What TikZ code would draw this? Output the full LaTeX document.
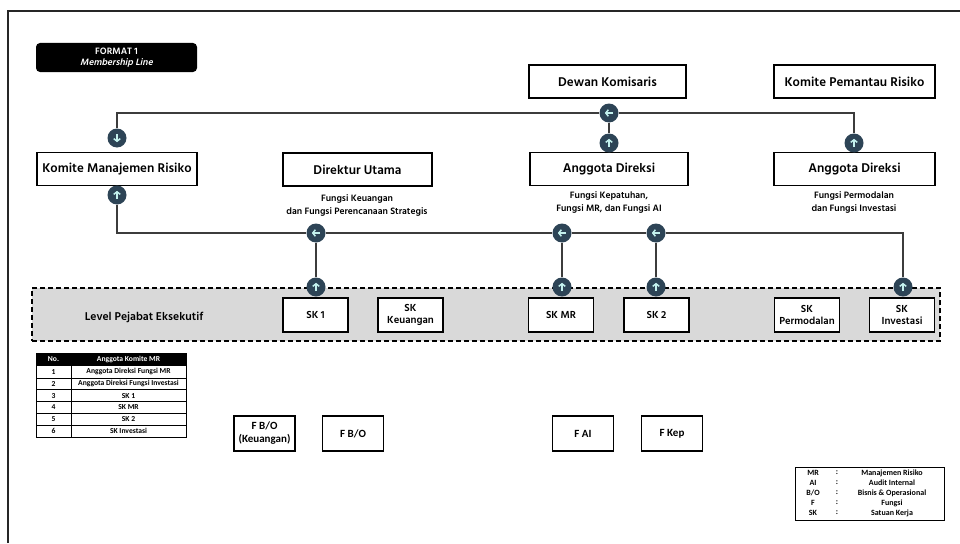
\documentclass[tikz,border=0pt]{standalone}
\usepackage{fontspec}
\setmainfont{Hind Siliguri}
\newfontfamily\hindsl{Hind Siliguri}[FakeSlant=0.22]
\newfontfamily\calib{Carlito}
\usetikzlibrary{arrows.meta}
\definecolor{circc}{HTML}{2D4456}
\definecolor{arrc}{HTML}{C4F2EE}
\definecolor{linec}{HTML}{3C3C3C}
\definecolor{band}{HTML}{D9D9D9}
\newcommand\arrL[1]{\draw[arrw] ([xshift=4.2pt]#1.center) -- ([xshift=-4.2pt]#1.center);}
\newcommand\arrU[1]{\draw[arrw] ([yshift=-4.2pt]#1.center) -- ([yshift=4.2pt]#1.center);}
\newcommand\arrD[1]{\draw[arrw] ([yshift=4.2pt]#1.center) -- ([yshift=-4.2pt]#1.center);}
\begin{document}
\begin{tikzpicture}[x=1pt,y=-1pt,
 box/.style={draw=black, line width=1.8pt, fill=white, minimum height=33pt, inner sep=0pt, font=\fontsize{13}{15}\selectfont\bfseries},
 skbox/.style={draw=black, line width=1.8pt, fill=white, minimum height=34pt, minimum width=65pt, inner sep=0pt, align=center, font=\fontsize{10.5}{11.5}\selectfont\bfseries},
 fbox/.style={draw=black, line width=1.5pt, fill=white, minimum height=35pt, minimum width=61pt, inner sep=0pt, align=center, font=\calib\fontsize{11}{13}\selectfont\bfseries},
 sub/.style={align=center, font=\fontsize{9.5}{13}\selectfont\bfseries},
 dot/.style={circle, fill=circc, minimum size=19pt, inner sep=0pt},
 conn/.style={draw=linec, line width=1.5pt},
 arrw/.style={draw=arrc, line width=1.5pt, -{Straight Barb[length=2.6pt,width=6.5pt]}},
 tcell/.style={font=\calib\fontsize{7.6}{9}\selectfont\bfseries, inner sep=0pt},
 lcell/.style={font=\calib\fontsize{8}{9}\selectfont\bfseries, inner sep=0pt},
]
\useasboundingbox (0,0) rectangle (960,543);
\fill[white] (0,0) rectangle (960,543);
% outer frame
\draw[line width=1.2pt, black!85] (8,543) -- (8,11) -- (960,11);

% title
\node[fill=black, rounded corners=4pt, minimum width=161pt, minimum height=29pt, inner sep=0pt] (title) at (116.5,57.5) {};
\node[text=white, align=center, font=\fontsize{9.5}{11.5}\selectfont\bfseries] (titletxt) at (title) {FORMAT 1\\\hindsl\bfseries Membership Line};

% band
\node[draw=black, dashed, dash pattern=on 5pt off 3pt, line width=1.6pt, fill=band, minimum width=908pt, minimum height=53pt, inner sep=0pt] (band) at (486,314.5) {};
\node[font=\fontsize{11.6}{14}\selectfont\bfseries] (lvl) at (144,317) {Level Pejabat Eksekutif};

% main boxes
\node[box, minimum width=160pt] (kmr) at (117,169) {Komite Manajemen Risiko};
\node[box, minimum width=149pt] (dirut) at (357.5,169.5) {Direktur Utama};
\node[box, minimum width=158pt] (ad1) at (609,169) {Anggota Direksi};
\node[box, minimum width=161pt] (ad2) at (854.5,169) {Anggota Direksi};
\node[box, minimum width=157pt] (dk) at (607.5,81.5) {Dewan Komisaris};
\node[box, minimum width=161pt] (kpr) at (854.5,81.5) {Komite Pemantau Risiko};

\node[sub] (s1) at (357,205) {Fungsi Keuangan\\dan Fungsi Perencanaan Strategis};
\node[sub] (s2) at (609,202.5) {Fungsi Kepatuhan,\\Fungsi MR, dan Fungsi AI};
\node[sub] (s3) at (854,202.5) {Fungsi Permodalan\\dan Fungsi Investasi};

% SK boxes
\node[skbox] (sk1) at (315.5,315) {SK 1};
\node[skbox] (skk) at (410.5,315) {SK\\Keuangan};
\node[skbox] (skmr) at (561,315) {SK MR};
\node[skbox] (sk2) at (656.5,315) {SK 2};
\node[skbox] (skp) at (807,315) {SK\\Permodalan};
\node[skbox] (ski) at (902,315) {SK\\Investasi};

% F boxes
\node[fbox] (fbok) at (264.5,433.5) {F B/O\\(Keuangan)};
\node[fbox] (fbo) at (353,433.5) {F B/O};
\node[fbox] (fai) at (583,433.5) {F AI};
\node[fbox] (fkep) at (672,433.5) {F Kep};

% circles
\node[dot] (ckt) at (117,138) {};
\node[dot] (ckb) at (117,195) {};
\node[dot] (cdk) at (609,113) {};
\node[dot] (cad1) at (609,143) {};
\node[dot] (cad2) at (854,143) {};
\node[dot] (cl1) at (316,233) {};
\node[dot] (cl2) at (562,233) {};
\node[dot] (cl3) at (656,233) {};
\node[dot] (cu1) at (316,287) {};
\node[dot] (cu2) at (562,287) {};
\node[dot] (cu3) at (656,287) {};
\node[dot] (cu4) at (903,287) {};

% connectors
\draw[conn] (ckt) |- (cdk);
\draw[conn] (cdk) -| (cad2);
\draw[conn] (cdk) -- (cad1);
\draw[conn] (ckb) |- (cl1);
\draw[conn] (cl1) -- (cl2);
\draw[conn] (cl2) -- (cl3);
\draw[conn] (cl3) -| (cu4);
\draw[conn] (cl1) -- (cu1);
\draw[conn] (cl2) -- (cu2);
\draw[conn] (cl3) -- (cu3);

\arrD{ckt} \arrU{ckb} \arrL{cdk} \arrU{cad1} \arrU{cad2}
\arrL{cl1} \arrL{cl2} \arrL{cl3}
\arrU{cu1} \arrU{cu2} \arrU{cu3} \arrU{cu4}

% table
\fill[black] (36,353) rectangle (186,366);
\draw[line width=0.6pt] (36,353) rectangle (186,437);
\foreach \i in {1,...,5} {\draw[line width=0.5pt] (36,{366+\i*11.83}) -- (186,{366+\i*11.83});}
\draw[line width=0.5pt] (71,366) -- (71,437);
\node[tcell, text=white] (th1) at (53.5,359.5) {No.};
\node[tcell, text=white] (th2) at (128.5,359.5) {Anggota Komite MR};
\foreach \n/\t [count=\k] in {1/Anggota Direksi Fungsi MR, 2/Anggota Direksi Fungsi Investasi, 3/SK 1, 4/SK MR, 5/SK 2, 6/SK Investasi} {
  \node[tcell] (tn\k) at (53.5,{366+(\k-0.5)*11.83}) {\n};
  \node[tcell] (tt\k) at (128.5,{366+(\k-0.5)*11.83}) {\t};
}

% legend
\node[draw=black, line width=0.8pt, minimum width=149pt, minimum height=53pt, inner sep=0pt] (leg) at (869.5,493.5) {};
\foreach \a/\b [count=\k] in {{MR}/{Manajemen Risiko}, {AI}/{Audit Internal}, {B/O}/{Bisnis \& Operasional}, {F}/{Fungsi}, {SK}/{Satuan Kerja}} {
  \node[lcell] (la\k) at (813,{463+\k*10}) {\a};
  \node[lcell] (lc\k) at (837,{463+\k*10}) {:};
  \node[lcell] (lb\k) at (892,{463+\k*10}) {\b};
}
\end{tikzpicture}
\end{document}
